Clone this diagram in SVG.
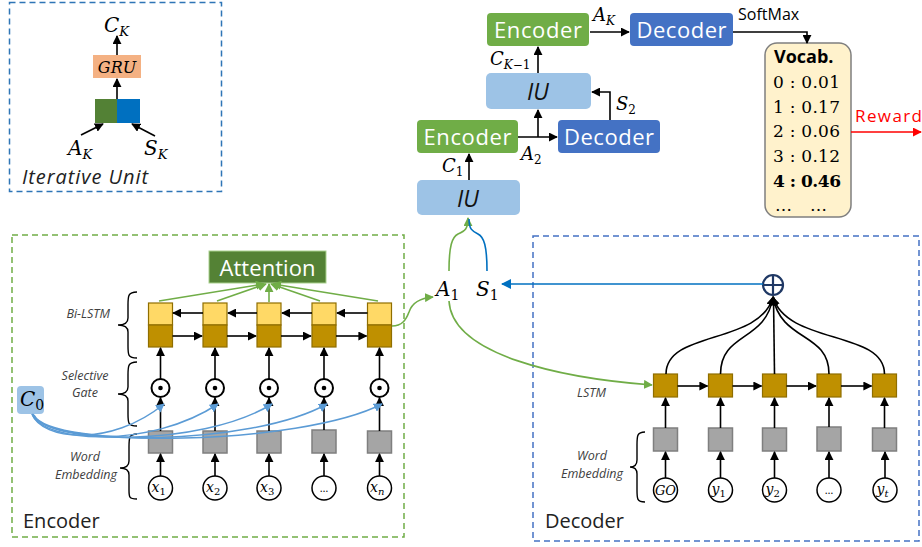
<svg xmlns="http://www.w3.org/2000/svg" width="922" height="547" viewBox="0 0 922 547">
<style>
.sans{font-family:"Open Sans","Liberation Sans",sans-serif}
.math{font-family:"DejaVu Serif","Liberation Serif",serif;font-style:italic}
.up{font-style:normal}
.lbl{font-family:"Open Sans","Liberation Sans",sans-serif;font-style:italic;font-size:12.5px;fill:#404040}
.box{font-family:"Open Sans","Liberation Sans",sans-serif;font-size:22px;fill:#fff}
.ar{stroke:#000;stroke-width:1.6;fill:none;marker-end:url(#ab)}
.ag{stroke:#70ad47;stroke-width:1.6;fill:none;marker-end:url(#ag)}
.abl{stroke:#5b9bd5;stroke-width:1.5;fill:none;marker-end:url(#abl)}
.cellT{fill:#ffd966;stroke:#8f6e00;stroke-width:1.2}
.cellB{fill:#bf9000;stroke:#8f6e00;stroke-width:1.2}
.emb{fill:#a5a5a5;stroke:#7f7f7f;stroke-width:1.5}
.gate{fill:#fff;stroke:#000;stroke-width:2}
.inp{fill:#fff;stroke:#000;stroke-width:1.5}
.brace{fill:none;stroke:#000;stroke-width:1.4}
.voc{font-family:"DejaVu Serif","Liberation Serif",serif;font-size:17px}
</style>
<defs>
<marker id="ab" viewBox="0 0 10 10" refX="9" refY="5" markerWidth="9" markerHeight="9" markerUnits="userSpaceOnUse" orient="auto"><path d="M0,0 L10,5 L0,10 z" fill="#000"/></marker>
<marker id="ag" viewBox="0 0 10 10" refX="9" refY="5" markerWidth="9" markerHeight="9" markerUnits="userSpaceOnUse" orient="auto"><path d="M0,0 L10,5 L0,10 z" fill="#70ad47"/></marker>
<marker id="abl" viewBox="0 0 10 10" refX="9" refY="5" markerWidth="9" markerHeight="9" markerUnits="userSpaceOnUse" orient="auto"><path d="M0,0 L10,5 L0,10 z" fill="#5b9bd5"/></marker>
<marker id="adb" viewBox="0 0 10 10" refX="9" refY="5" markerWidth="10" markerHeight="10" markerUnits="userSpaceOnUse" orient="auto"><path d="M0,0 L10,5 L0,10 z" fill="#0070c0"/></marker>
<marker id="ar" viewBox="0 0 10 10" refX="9" refY="5" markerWidth="9" markerHeight="9" markerUnits="userSpaceOnUse" orient="auto"><path d="M0,0 L10,5 L0,10 z" fill="#ff0000"/></marker>
</defs>
<rect width="922" height="547" fill="#fff"/>

<!-- Iterative Unit legend -->
<g id="iterative-unit">
<rect x="9.5" y="2.5" width="212" height="189" fill="none" stroke="#2e75b6" stroke-width="1.5" stroke-dasharray="6,4"/>
<text class="math" x="104" y="32" font-size="20">C<tspan font-size="13" dy="4">K</tspan></text>
<rect x="93" y="55" width="48" height="23" fill="#f4b183"/>
<text class="math" x="117" y="72.5" font-size="16" text-anchor="middle">GRU</text>
<rect x="95" y="99" width="22" height="24" fill="#538135"/>
<rect x="117" y="99" width="23" height="24" fill="#0070c0"/>
<path class="ar" d="M117,55 V36"/>
<path class="ar" d="M117,99 V79"/>
<path class="ar" d="M81,135 L103,124"/>
<path class="ar" d="M155,136 L132,124"/>
<text class="math" x="68" y="155" font-size="20">A<tspan font-size="13" dy="4">K</tspan></text>
<text class="math" x="144" y="155" font-size="20">S<tspan font-size="13" dy="4">K</tspan></text>
<text class="sans" x="22" y="184" font-size="20" font-style="italic" fill="#222" textLength="126">Iterative Unit</text>
</g>

<!-- Top pipeline -->
<g id="encoder-k">
<rect x="487" y="13" width="102" height="33" rx="4" fill="#70ad47"/>
<text class="box" x="538" y="38" text-anchor="middle" textLength="88">Encoder</text>
</g>
<g id="decoder-k">
<rect x="630" y="13" width="103" height="33" rx="4" fill="#4472c4"/>
<text class="box" x="681.5" y="38" text-anchor="middle" textLength="90">Decoder</text>
</g>
<g id="iu-2">
<rect x="486" y="73" width="105" height="36" rx="5" fill="#9dc3e6"/>
<text class="sans" x="538" y="100" font-size="23" font-style="italic" text-anchor="middle" fill="#111">IU</text>
</g>
<g id="encoder-2">
<rect x="417" y="120" width="101" height="33" rx="4" fill="#70ad47"/>
<text class="box" x="467.5" y="145" text-anchor="middle" textLength="88">Encoder</text>
</g>
<g id="decoder-2">
<rect x="558" y="120" width="102" height="33" rx="4" fill="#4472c4"/>
<text class="box" x="609" y="145" text-anchor="middle" textLength="90">Decoder</text>
</g>
<g id="iu-1">
<rect x="417" y="180" width="103" height="35" rx="5" fill="#9dc3e6"/>
<text class="sans" x="468" y="207" font-size="23" font-style="italic" text-anchor="middle" fill="#111">IU</text>
</g>
<g id="vocab">
<rect x="765" y="43" width="86" height="174" rx="12" fill="#fff2cc" stroke="#7f7f7f" stroke-width="1.5"/>
<text class="sans" x="774" y="63" font-size="18" font-weight="bold">Vocab.</text>
<text class="voc" x="773" y="88" textLength="67">0 : 0.01</text>
<text class="voc" x="773" y="113" textLength="67">1 : 0.17</text>
<text class="voc" x="773" y="137" textLength="67">2 : 0.06</text>
<text class="voc" x="773" y="162" textLength="67">3 : 0.12</text>
<text class="voc" x="773" y="187" font-weight="bold" textLength="68">4 : 0.46</text>
<text class="voc" x="775" y="211" font-size="11">…</text>
<text class="voc" x="810" y="211" font-size="11">…</text>
</g>

<!-- Encoder -->
<g id="encoder-box">
<rect x="12" y="235" width="392" height="302" fill="none" stroke="#70ad47" stroke-width="1.5" stroke-dasharray="6,4"/>
<text class="sans" x="23" y="528" font-size="20" fill="#222">Encoder</text>
</g>
<g id="attention">
<rect x="209" y="251" width="117" height="32" fill="#548235" stroke="#a9d18e" stroke-width="1"/>
<text class="box" x="267.5" y="276" text-anchor="middle" textLength="96">Attention</text>
</g>
<g id="bilstm">
<rect class="cellT" x="148.5" y="303" width="24" height="22"/><rect class="cellB" x="148.5" y="325" width="24" height="22"/>
<rect class="cellT" x="203" y="303" width="24" height="22"/><rect class="cellB" x="203" y="325" width="24" height="22"/>
<rect class="cellT" x="257" y="303" width="24" height="22"/><rect class="cellB" x="257" y="325" width="24" height="22"/>
<rect class="cellT" x="312" y="303" width="24" height="22"/><rect class="cellB" x="312" y="325" width="24" height="22"/>
<rect class="cellT" x="367.5" y="303" width="24" height="22"/><rect class="cellB" x="367.5" y="325" width="24" height="22"/>
</g>
<g id="selective-gate">
<circle class="gate" cx="160.5" cy="388" r="9"/><circle cx="160.5" cy="388" r="2.3"/>
<circle class="gate" cx="215" cy="388" r="9"/><circle cx="215" cy="388" r="2.3"/>
<circle class="gate" cx="269" cy="388" r="9"/><circle cx="269" cy="388" r="2.3"/>
<circle class="gate" cx="324" cy="388" r="9"/><circle cx="324" cy="388" r="2.3"/>
<circle class="gate" cx="379.5" cy="388" r="9"/><circle cx="379.5" cy="388" r="2.3"/>
</g>
<g id="enc-embedding">
<rect class="emb" x="148.5" y="431" width="24" height="22"/>
<rect class="emb" x="203" y="431" width="24" height="22"/>
<rect class="emb" x="257" y="431" width="24" height="22"/>
<rect class="emb" x="312" y="430" width="24" height="23"/>
<rect class="emb" x="367.5" y="431" width="24" height="22"/>
</g>
<g id="enc-inputs">
<circle class="inp" cx="160.5" cy="488" r="12"/>
<circle class="inp" cx="215" cy="488" r="12"/>
<circle class="inp" cx="269" cy="488" r="12"/>
<circle class="inp" cx="324" cy="488" r="12"/>
<circle class="inp" cx="379.5" cy="488" r="12"/>
<text class="math" x="151.5" y="492" font-size="14">x<tspan class="up" font-size="10" dy="3">1</tspan></text>
<text class="math" x="206" y="492" font-size="14">x<tspan class="up" font-size="10" dy="3">2</tspan></text>
<text class="math" x="260" y="492" font-size="14">x<tspan class="up" font-size="10" dy="3">3</tspan></text>
<text class="sans" x="324" y="492" font-size="11" text-anchor="middle">…</text>
<text class="math" x="370" y="492" font-size="14">x<tspan font-size="10" dy="3">n</tspan></text>
</g>
<g id="c0">
<rect x="17" y="386" width="27" height="28" rx="4" fill="#9dc3e6"/>
<text class="math" x="20" y="406" font-size="20">C<tspan class="up" font-size="14" dy="4">0</tspan></text>
</g>
<g id="enc-braces">
<path class="brace" d="M137,292 C128,292 128,296 128,305 L128,318 C128,323 125,325 118,325 C125,325 128,327 128,332 L128,346 C128,355 128,358 137,358"/>
<path class="brace" d="M137,362 C128,362 128,366 128,375 L128,387 C128,392 125,394 118,394 C125,394 128,396 128,401 L128,414 C128,423 128,426 137,426"/>
<path class="brace" d="M137,434 C129,434 129,438 129,447 L129,461 C129,466 126,468 120,468 C126,468 129,470 129,475 L129,490 C129,497 129,499 137,499"/>
<text class="lbl" x="110" y="318" text-anchor="end">Bi-LSTM</text>
<text class="lbl" x="85" y="380" text-anchor="middle">Selective</text>
<text class="lbl" x="85" y="397" text-anchor="middle">Gate</text>
<text class="lbl" x="85" y="461" text-anchor="middle">Word</text>
<text class="lbl" x="86" y="479" text-anchor="middle">Embedding</text>
</g>

<!-- A1 S1 -->
<g id="a1"><text class="math" x="436" y="296" font-size="20">A<tspan class="up" font-size="14" dy="4">1</tspan></text></g>
<g id="s1"><text class="math" x="476" y="296" font-size="20">S<tspan class="up" font-size="14" dy="4">1</tspan></text></g>

<!-- Decoder -->
<g id="decoder-box">
<rect x="533" y="236" width="386" height="305" fill="none" stroke="#4472c4" stroke-width="1.5" stroke-dasharray="6,4"/>
<text class="sans" x="545" y="528" font-size="20" fill="#222">Decoder</text>
</g>
<g id="oplus">
<circle cx="773" cy="285" r="10" fill="#fff" stroke="#1f3864" stroke-width="2.2"/>
<path d="M763,285 H783 M773,275 V295" stroke="#1f3864" stroke-width="2.2"/>
</g>
<g id="dec-lstm">
<rect class="cellB" x="653.5" y="374" width="24" height="23"/>
<rect class="cellB" x="708.5" y="374" width="24" height="23"/>
<rect class="cellB" x="762.5" y="374" width="24" height="23"/>
<rect class="cellB" x="817" y="374" width="24" height="23"/>
<rect class="cellB" x="872.5" y="374" width="24" height="23"/>
</g>
<g id="dec-embedding">
<rect class="emb" x="653.5" y="428" width="24" height="23"/>
<rect class="emb" x="708.5" y="428" width="24" height="23"/>
<rect class="emb" x="762.5" y="428" width="24" height="23"/>
<rect class="emb" x="817" y="427" width="24" height="24"/>
<rect class="emb" x="872.5" y="428" width="24" height="23"/>
</g>
<g id="dec-inputs">
<circle class="inp" cx="665.5" cy="490" r="12"/>
<circle class="inp" cx="720.5" cy="490" r="12"/>
<circle class="inp" cx="774.5" cy="490" r="12"/>
<circle class="inp" cx="829" cy="490" r="12"/>
<circle class="inp" cx="885" cy="490" r="12"/>
<text class="math" x="665.5" y="495" font-size="13" text-anchor="middle">GO</text>
<text class="math" x="711.5" y="494" font-size="14">y<tspan class="up" font-size="10" dy="3">1</tspan></text>
<text class="math" x="765.5" y="494" font-size="14">y<tspan class="up" font-size="10" dy="3">2</tspan></text>
<text class="sans" x="829" y="494" font-size="11" text-anchor="middle">…</text>
<text class="math" x="876.5" y="494" font-size="14">y<tspan font-size="10" dy="3">t</tspan></text>
</g>
<g id="dec-brace">
<path class="brace" d="M645,432 C637,432 637,436 637,445 L637,460 C637,465 634,467 630,467 C634,467 637,469 637,474 L637,490 C637,499 637,502 645,502"/>
<text class="lbl" x="592" y="460" text-anchor="middle">Word</text>
<text class="lbl" x="592" y="478" text-anchor="middle">Embedding</text>
</g>
<text class="lbl" x="577" y="397">LSTM</text>

<!-- connectors -->
<g id="connectors">
<path class="ar" d="M590,32 H629"/>
<text class="math" x="593" y="21" font-size="18">A<tspan font-size="12" dy="4">K</tspan></text>
<path class="ar" d="M733,32 H807 V43"/>
<text class="sans" x="738" y="20" font-size="16">SoftMax</text>
<path class="ar" d="M538,73 V47"/>
<text class="math" x="490" y="65" font-size="18">C<tspan font-size="12" dy="4">K</tspan><tspan class="up" font-size="12">−1</tspan></text>
<path class="ar" d="M518,137 H557"/>
<path class="ar" d="M538,137 V110"/>
<text class="math" x="521" y="160" font-size="18">A<tspan class="up" font-size="12" dy="4">2</tspan></text>
<path class="ar" d="M610,120 V92 H592"/>
<text class="math" x="616" y="110" font-size="18">S<tspan class="up" font-size="12" dy="4">2</tspan></text>
<path class="ar" d="M469,180 V154"/>
<text class="math" x="442" y="172" font-size="18">C<tspan class="up" font-size="12" dy="4">1</tspan></text>
<path d="M851,132 H921" stroke="#ff0000" stroke-width="1.6" fill="none" marker-end="url(#ar)"/>
<text class="sans" x="855" y="122" font-size="17" fill="#ff0000" textLength="67">Reward</text>

<path class="ag" d="M449,271 C449,246 452,237 458,234 C465,231 468,229 468,218"/>
<path d="M487,271 C487,246 484,237 478,234 C472,231 469,229 469,219" stroke="#0070c0" stroke-width="1.6" fill="none"/>
<path class="ag" d="M392,326 C402,326 406,320 409,312 C412,303 420,298 433,297"/>
<path class="ag" d="M449,301 C452,355 560,378 652,385"/>
<path d="M763,284 H502" stroke="#0070c0" stroke-width="1.6" fill="none" marker-end="url(#adb)"/>

<path class="ag" d="M159,301 L264,284"/>
<path class="ag" d="M217,301 L266,284"/>
<path class="ag" d="M269,302 L269,284"/>
<path class="ag" d="M320,301 L271,284"/>
<path class="ag" d="M378,301 L273,284"/>

<path class="ar" d="M203,313 H173"/>
<path class="ar" d="M257,313 H228"/>
<path class="ar" d="M312,313 H282"/>
<path class="ar" d="M367.5,313 H337"/>
<path class="ar" d="M172.5,336 H202"/>
<path class="ar" d="M227,336 H256"/>
<path class="ar" d="M281,336 H311"/>
<path class="ar" d="M336,336 H366.5"/>

<path class="ar" d="M160.5,379 V348"/>
<path class="ar" d="M215,379 V348"/>
<path class="ar" d="M269,379 V348"/>
<path class="ar" d="M324,379 V348"/>
<path class="ar" d="M379.5,379 V348"/>
<path class="ar" d="M160.5,431 V398"/>
<path class="ar" d="M215,431 V398"/>
<path class="ar" d="M269,431 V398"/>
<path class="ar" d="M324,430 V398"/>
<path class="ar" d="M379.5,431 V398"/>
<path class="ar" d="M160.5,476 V454"/>
<path class="ar" d="M215,476 V454"/>
<path class="ar" d="M269,476 V454"/>
<path class="ar" d="M324,476 V454"/>
<path class="ar" d="M379.5,476 V454"/>

<path class="abl" d="M32,414 C42,440 110,448 164,404"/>
<path class="abl" d="M32,414 C44,443 150,449 218,404"/>
<path class="abl" d="M33,414 C46,445 200,448 272,404"/>
<path class="abl" d="M33,415 C48,447 250,447 327,404"/>
<path class="abl" d="M34,415 C50,449 300,446 382,404"/>

<path class="ar" d="M677.5,386 H707.5"/>
<path class="ar" d="M732.5,386 H761.5"/>
<path class="ar" d="M786.5,386 H816"/>
<path class="ar" d="M841,386 H871.5"/>
<path class="ar" d="M665.5,428 V398"/>
<path class="ar" d="M720.5,428 V398"/>
<path class="ar" d="M774.5,428 V398"/>
<path class="ar" d="M829,427 V398"/>
<path class="ar" d="M884.5,428 V398"/>
<path class="ar" d="M665.5,478 V452"/>
<path class="ar" d="M720.5,478 V452"/>
<path class="ar" d="M774.5,478 V452"/>
<path class="ar" d="M829,478 V452"/>
<path class="ar" d="M885,478 V452"/>
<path class="ar" d="M666,374 C666,330 760,345 773,297"/>
<path class="ar" d="M720.5,374 C720.5,332 766,342 773,297"/>
<path class="ar" d="M774.5,374 L773.5,297"/>
<path class="ar" d="M829,374 C829,332 781,342 773,297"/>
<path class="ar" d="M884.5,374 C884.5,330 787,345 773,297"/>
</g>
</svg>
